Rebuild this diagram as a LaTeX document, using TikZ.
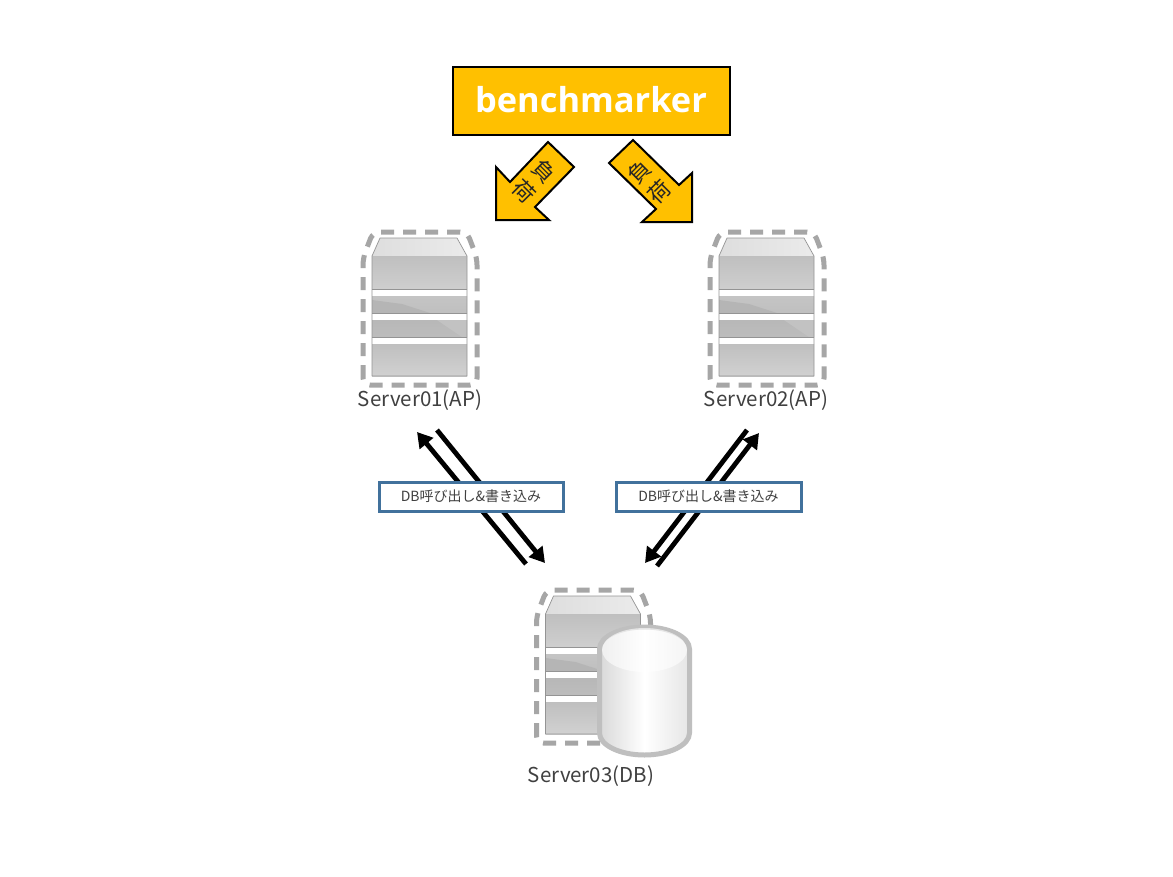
\documentclass[tikz,border=0pt]{standalone}
\usepackage{fontspec}
\setmainfont{Noto Sans CJK JP}
\newfontfamily\benchfont{Open Sans}
\usetikzlibrary{arrows.meta,shapes.geometric}
\definecolor{gold}{HTML}{FFC000}
\definecolor{boxblue}{HTML}{41719C}
\definecolor{dashgrey}{HTML}{A6A6A6}
\definecolor{labelink}{HTML}{404040}
\tikzset{
  x=1pt,y=-1pt,
  loadarrow/.style={draw=black,line width=2pt,fill=gold,line join=miter},
  loadtext/.style={font=\fontsize{22}{28}\selectfont,align=center,inner sep=0pt,text=black!85},
  flow/.style={draw=black,line width=4.8pt},
  flowhead/.style={flow,-{Triangle[length=15pt,width=17pt]}},
  callbox/.style={draw=boxblue,line width=3pt,fill=white,minimum width=184pt,minimum height=29pt,inner sep=0pt,
    font=\fontsize{14}{16}\selectfont,text=labelink},
  serverlabel/.style={font=\fontsize{20.5}{24}\selectfont,inner sep=0pt,text=labelink},
  dashring/.style={draw=dashgrey,line width=5pt,dash pattern=on 13pt off 9pt,rounded corners=7pt},
  strip/.style={fill=white,draw=none},
}
\newcommand{\serverpic}[2]{%
\begin{scope}[shift={(#1,#2)}]
  \draw[dashring] (-9,385) -- (-9,258) -- (1,232) -- (95,232) -- (105,258) -- (105,385) -- cycle;
  \shade[left color=black!13,right color=black!8] (8,238) -- (85,238) -- (95,256) -- (0,256) -- cycle;
  \shade[top color=black!25,bottom color=black!19] (0,256) rectangle (95,289);
  \shade[top color=black!23,bottom color=black!25] (0,296) rectangle (95,313);
  \fill[black!29] (0,300) -- (30,304) -- (58,313) -- (0,313) -- cycle;
  \shade[top color=black!28,bottom color=black!26] (0,320) rectangle (95,337);
  \fill[black!24] (65,320) -- (95,320) -- (95,337) -- (90,337) -- cycle;
  \shade[top color=black!25,bottom color=black!18] (0,344) rectangle (95,376);
  \fill[strip] (0,289.4) rectangle (95,296);
  \fill[strip] (0,313.4) rectangle (95,320);
  \fill[strip] (0,337.4) rectangle (95,344);
  \draw[black!42,line width=.4pt] (0,289) -- (95,289) (0,313) -- (95,313) (0,337) -- (95,337);
  \draw[black!42,line width=.7pt,line join=round] (0,256) -- (8,238) -- (85,238) -- (95,256) -- (95,376) -- (0,376) -- cycle;
\end{scope}}
\begin{document}
\begin{tikzpicture}
\useasboundingbox (0,0) rectangle (1173,876);
\fill[white] (0,0) rectangle (1173,876);

% benchmarker
\node[draw=black,line width=2pt,fill=gold,minimum width=277pt,minimum height=68pt,inner sep=0pt,
  text=white,font=\benchfont\bfseries\fontsize{34.4}{40}\selectfont] (bench) at (591,100.5) {\raisebox{1.5pt}{benchmarker}};

% load arrows
\draw[loadarrow] (548,142) -- (574,167) -- (535,207) -- (549,220) -- (496,220) -- (496,167) -- (510,182) -- cycle;
\draw[loadarrow] (609,163) -- (633,140) -- (679,185) -- (692,173) -- (692,222) -- (642,222) -- (656,209) -- cycle;
\node[loadtext,rotate=-45] (loadL) at (534.5,181) {負\\荷};
\node[loadtext,rotate=45] (loadR) at (649,181.5) {負\\荷};

% servers
\serverpic{372}{0}
\serverpic{719}{0}
\serverpic{545.5}{358}
\node[serverlabel] (s1) at (420,400) {Server01(AP)};
\node[serverlabel] (s2) at (766,400) {Server02(AP)};
\node[serverlabel] (s3) at (591,776) {Server03(DB)};

% database cylinder
\path[left color=black!15,right color=black!10,middle color=white,draw=black!25,line width=5pt]
  (599.5,649) arc[x radius=45,y radius=22,start angle=180,end angle=360]
  -- (689.5,733) arc[x radius=45,y radius=22,start angle=0,end angle=180] -- cycle;
\path[fill=white,fill opacity=.6] (602,650) arc[x radius=42.5,y radius=22,start angle=180,end angle=-180];

% flow ends
\coordinate (a1) at (526,564);
\coordinate (a2) at (417,432);
\coordinate (b1) at (437,430);
\coordinate (b2) at (545,563);
\coordinate (c1) at (747,430);
\coordinate (c2) at (645,563);
\coordinate (d1) at (657,566);
\coordinate (d2) at (759,433);
\draw[flowhead] (a1) -- (a2);
\draw[flowhead] (b1) -- (b2);
\draw[flowhead] (c1) -- (c2);
\draw[flowhead] (d1) -- (d2);

\node[callbox] (callL) at (471,496.5) {DB呼び出し\&書き込み};
\node[callbox,minimum width=185pt] (callR) at (708.5,496.5) {DB呼び出し\&書き込み};
\end{tikzpicture}
\end{document}
